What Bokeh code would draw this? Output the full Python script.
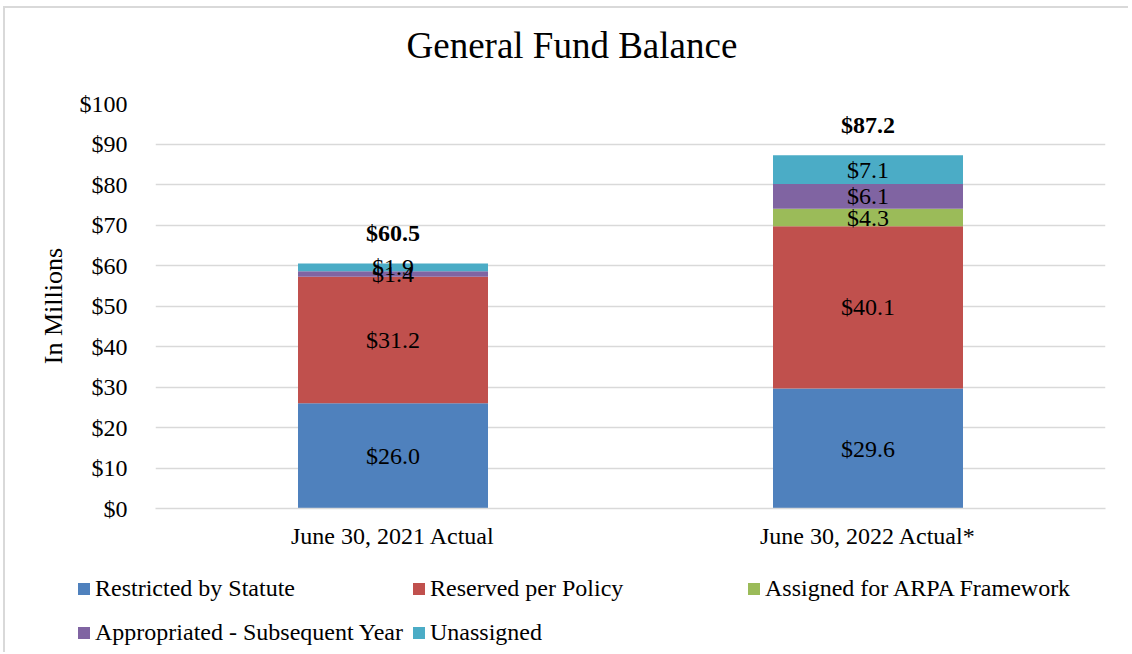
from bokeh.plotting import figure
from bokeh.models import ColumnDataSource, FactorRange, Legend, LegendItem, NumeralTickFormatter, Range1d, Title
from bokeh.core.properties import value
from bokeh.embed import file_html
from bokeh.resources import INLINE

categories = ["June 30, 2021 Actual", "June 30, 2022 Actual*"]
series = ["Restricted by Statute", "Reserved per Policy", "Assigned for ARPA Framework",
          "Appropriated - Subsequent Year", "Unassigned"]
restricted = [26.0, 29.6]
reserved = [31.2, 40.1]
arpa = [0.0, 4.3]
appropriated = [1.4, 6.1]
unassigned = [1.9, 7.1]
totals = [60.5, 87.2]
colors = ["#4F81BD", "#C0504D", "#9BBB59", "#8064A2", "#4BACC6"]
chart_title = "General Fund Balance"

FONT = "Liberation Serif"
FS = "24px"

p = figure(x_range=FactorRange(*categories), y_range=Range1d(0, 100), title=None,
           width=1125, height=550, output_backend="svg", toolbar_location=None,
           min_border_left=150, min_border_right=25, min_border_top=95, min_border_bottom=50)

# spacer (closest to the frame), then the main title above it
p.add_layout(Title(text=" ", text_font=FONT, text_font_size="20px", standoff=14), "above")
p.add_layout(Title(text=chart_title, align="left", offset=251, vertical_align="bottom",
                   standoff=0, text_font=FONT, text_font_size="37px",
                   text_font_style="normal", text_color="black"), "above")

data = dict(cat=categories, restricted=restricted, reserved=reserved, arpa=arpa,
            appropriated=appropriated, unassigned=unassigned)
src = ColumnDataSource(data)
keys = ["restricted", "reserved", "arpa", "appropriated", "unassigned"]
p.vbar_stack(keys, x="cat", width=0.4, color=colors, line_color=None, source=src)

# segment labels
vals = [restricted, reserved, arpa, appropriated, unassigned]
lx, ly, lt = [], [], []
for ci, c in enumerate(categories):
    base = 0.0
    for si in range(len(keys)):
        v = vals[si][ci]
        if v > 0:
            lx.append(c)
            ly.append(base + v / 2)
            lt.append("$%.1f" % v)
        base += v
p.text(x=lx, y=ly, text=lt, text_align="center", text_baseline="middle",
       text_font=value(FONT), text_font_size=FS, text_color="black")

p.text(x=categories, y=totals, text=["$%.1f" % t for t in totals], y_offset=-30,
       text_align="center", text_baseline="middle", text_font=value(FONT),
       text_font_size=FS, text_font_style="bold", text_color="black")

# axes
p.xgrid.grid_line_color = None
p.ygrid.grid_line_color = "#D9D9D9"
p.ygrid.grid_line_width = 1.5
p.yaxis.ticker = list(range(0, 101, 10))
p.yaxis.formatter = NumeralTickFormatter(format="$0")
p.yaxis.axis_line_color = None
p.yaxis.major_tick_line_color = None
p.yaxis.minor_tick_line_color = None
p.yaxis.major_label_standoff = 22
p.yaxis.major_label_text_font = FONT
p.yaxis.major_label_text_font_size = FS
p.yaxis.major_label_text_color = "black"
p.yaxis.axis_label = "In Millions"
p.yaxis.axis_label_text_font = FONT
p.yaxis.axis_label_text_font_size = "26px"
p.yaxis.axis_label_text_font_style = "normal"
p.yaxis.axis_label_text_color = "black"
p.yaxis.axis_label_standoff = 9

p.xaxis.axis_line_color = "#D9D9D9"
p.xaxis.axis_line_width = 1.5
p.xaxis.major_tick_line_color = None
p.xaxis.minor_tick_line_color = None
p.xaxis.major_label_standoff = 8
p.xaxis.major_label_text_font = FONT
p.xaxis.major_label_text_font_size = FS
p.xaxis.major_label_text_color = "black"

p.outline_line_color = None
p.styles = {"margin-left": "3px", "margin-top": "6px",
            "border-left": "2px solid #D9D9D9", "border-top": "2px solid #D9D9D9"}

# legend strip: a second root figure whose frame spans the full width
p2 = figure(x_range=FactorRange(*categories), y_range=Range1d(1000, 1001),
            width=1125, height=96, output_backend="svg", toolbar_location=None,
            x_axis_type=None, y_axis_type=None,
            min_border_left=0, min_border_right=0, min_border_top=0, min_border_bottom=0)
p2.outline_line_color = None
p2.xgrid.grid_line_color = None
p2.ygrid.grid_line_color = None
rs2 = p2.vbar_stack(keys, x="cat", width=0.4, color=colors, line_color=None, source=src)

legend = Legend(items=[LegendItem(label=n, renderers=[r]) for n, r in zip(series, rs2)],
                ncols=3, location=(71, 0), orientation="horizontal",
                padding=0, margin=0, spacing=5,
                glyph_width=15, glyph_height=15, label_standoff=4, label_width=311,
                label_height=39, label_text_font=FONT, label_text_font_size=FS,
                label_text_color="black",
                border_line_color=None, background_fill_alpha=0)
p2.add_layout(legend, "center")
p2.styles = {"margin-left": "3px", "border-left": "2px solid #D9D9D9"}

open("out.html", "w").write(file_html([p, p2], INLINE))
